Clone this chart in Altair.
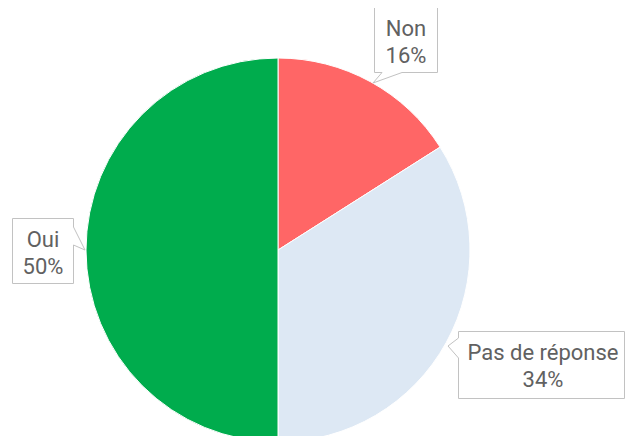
import altair as alt
import pandas as pd

# ---- data ----
categories = ["Non", "Pas de réponse", "Oui"]
values = [16, 34, 50]
colors = ["#ff6666", "#dde8f4", "#00ac4d"]

# ---- callout layout (presentation only, chart pixel coordinates) ----
box_x = [398, 533.5, 35]
box_y = [32, 357, 243]
text_x = [398, 535, 35]
text_y = [28, 352, 239]
box_paths = [
    "M-31.5,-32.5H31.5V32.5H-4L-33,43L-24,32.5H-31.5Z",
    "M-83,-33.5H83V33.5H-83V-7L-93.5,-19L-83,-27Z",
    "M-30.5,-32.5H30.5V-24L42,-1L30.5,-6V32.5H-30.5Z",
]

W, H = 617, 428

df = pd.DataFrame({
    "category": categories,
    "value": values,
    "order": list(range(len(categories))),
    "bx": box_x, "by": box_y, "tx": text_x, "ty": text_y,
})

base = alt.Chart(df)

pie = base.mark_arc(outerRadius=192, stroke="white", strokeWidth=1).encode(
    theta=alt.Theta("value:Q", stack=True),
    color=alt.Color("category:N", scale=alt.Scale(domain=categories, range=colors), legend=None),
    order=alt.Order("order:Q"),
    x=alt.value(270),
    y=alt.value(242),
)

xs = alt.Scale(domain=[0, W], range=[0, W])
ys = alt.Scale(domain=[0, H], range=[0, H])

boxes = base.mark_point(size=4, filled=True, fill="white", stroke="#c2c2c2",
                        strokeWidth=1, opacity=1).encode(
    x=alt.X("bx:Q", scale=xs, axis=None),
    y=alt.Y("by:Q", scale=ys, axis=None),
    shape=alt.Shape("category:N", scale=alt.Scale(domain=categories, range=box_paths), legend=None),
)

labels = base.transform_joinaggregate(
    total="sum(value)"
).transform_calculate(
    lbl="datum.category + '\\n' + round(datum.value / datum.total * 100) + '%'"
).mark_text(
    lineBreak="\n", font="Roboto", fontSize=22, color="#616161",
    align="center", baseline="alphabetic", lineHeight=27,
).encode(
    x=alt.X("tx:Q", scale=xs, axis=None),
    y=alt.Y("ty:Q", scale=ys, axis=None),
    text="lbl:N",
)

chart = alt.layer(pie, boxes, labels).properties(
    width=W, height=H, padding=0, autosize=alt.AutoSizeParams(type="none"),
    background="white",
).configure_view(stroke=None)

chart.save("out.html", embed_options={"renderer": "svg", "actions": False})
